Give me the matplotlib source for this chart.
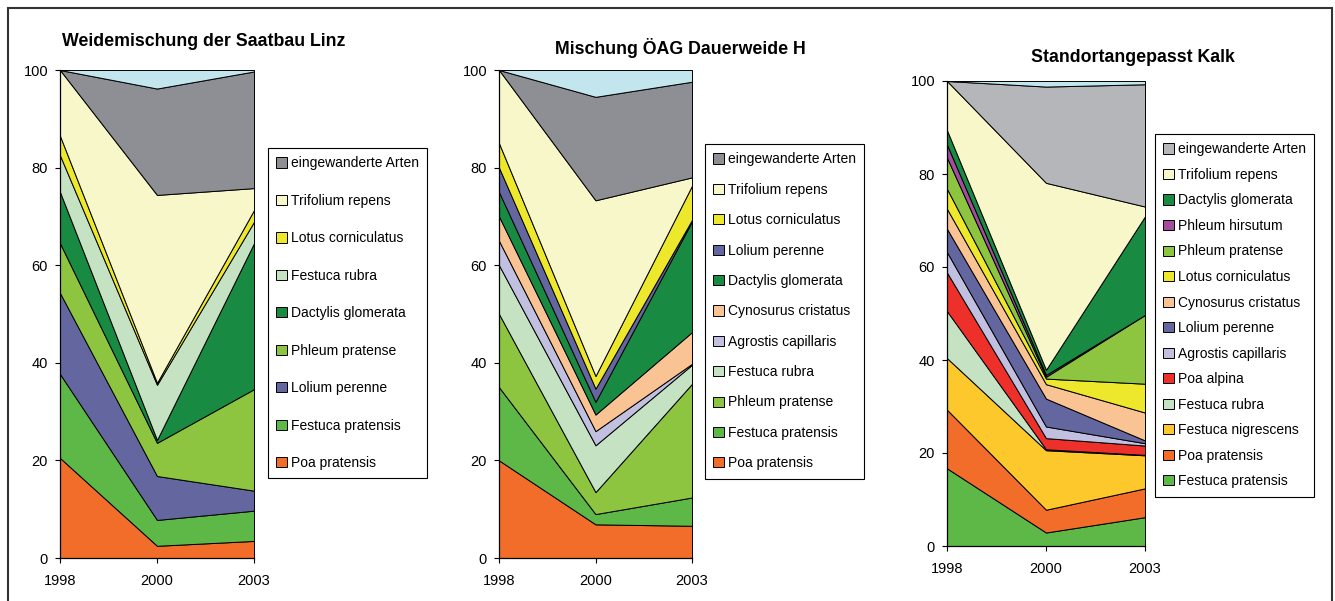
import matplotlib
matplotlib.use("Agg")
import matplotlib.pyplot as plt
from matplotlib.patches import Rectangle

plt.rcParams['font.family'] = ['Liberation Sans', 'DejaVu Sans']

W, H = 1335, 601

years = ['1998', '2000', '2003']

# colours per species
colors = {
    'Poa pratensis': '#F26C2A',
    'Festuca pratensis': '#5DB847',
    'Lolium perenne': '#64679F',
    'Phleum pratense': '#8DC540',
    'Dactylis glomerata': '#198A42',
    'Festuca rubra': '#C5E3C3',
    'Lotus corniculatus': '#EDE82B',
    'Trifolium repens': '#F8F7CA',
    'Agrostis capillaris': '#C1C0E0',
    'Cynosurus cristatus': '#F9C394',
    'Poa alpina': '#EE302B',
    'Festuca nigrescens': '#FCC82B',
    'Phleum hirsutum': '#A34D9F',
    'eingewanderte Arten': '#8E8F94',
    'sonstige': '#C2E5EE',
}

# --- Weidemischung der Saatbau Linz (bottom to top) ---
linz_species = ['Poa pratensis', 'Festuca pratensis', 'Lolium perenne', 'Phleum pratense',
                'Dactylis glomerata', 'Festuca rubra', 'Lotus corniculatus',
                'Trifolium repens', 'eingewanderte Arten', 'sonstige']
linz_values = [
    [20.5, 2.5, 3.5],
    [17.2, 5.3, 6.2],
    [16.6, 9.0, 4.1],
    [10.2, 6.8, 20.8],
    [10.5, 0.6, 29.9],
    [7.5, 11.3, 4.4],
    [4.0, 0.4, 2.4],
    [13.5, 38.5, 4.5],
    [0.0, 21.8, 23.9],
    [0.0, 3.8, 0.3],
]

# --- Mischung ÖAG Dauerweide H ---
oeag_species = ['Poa pratensis', 'Festuca pratensis', 'Phleum pratense', 'Festuca rubra',
                'Agrostis capillaris', 'Cynosurus cristatus', 'Dactylis glomerata',
                'Lolium perenne', 'Lotus corniculatus', 'Trifolium repens',
                'eingewanderte Arten', 'sonstige']
oeag_values = [
    [20.0, 6.9, 6.6],
    [15.0, 2.1, 5.8],
    [15.0, 4.5, 23.3],
    [10.0, 9.6, 3.9],
    [5.0, 2.9, 0.2],
    [5.0, 3.4, 6.5],
    [5.0, 2.6, 22.7],
    [5.0, 2.7, 0.3],
    [5.0, 2.6, 7.0],
    [15.0, 36.0, 1.7],
    [0.0, 21.2, 19.6],
    [0.0, 5.5, 2.4],
]

# --- Standortangepasst Kalk ---
kalk_species = ['Festuca pratensis', 'Poa pratensis', 'Festuca nigrescens', 'Festuca rubra',
                'Poa alpina', 'Agrostis capillaris', 'Lolium perenne', 'Cynosurus cristatus',
                'Lotus corniculatus', 'Phleum pratense', 'Phleum hirsutum',
                'Dactylis glomerata', 'Trifolium repens', 'eingewanderte Arten', 'sonstige']
kalk_values = [
    [16.7, 2.9, 6.2],
    [12.6, 4.9, 6.2],
    [11.1, 12.8, 7.1],
    [10.1, 0.2, 0.1],
    [8.3, 2.4, 2.0],
    [4.4, 2.5, 0.5],
    [5.0, 6.0, 0.6],
    [4.3, 3.1, 6.0],
    [4.3, 1.2, 6.2],
    [6.7, 0.4, 14.8],
    [2.8, 0.4, 0.0],
    [3.1, 1.1, 21.2],
    [10.6, 40.2, 2.1],
    [0.0, 20.7, 26.3],
    [0.0, 1.2, 0.7],
]

panels = [
    dict(title='Weidemischung der Saatbau Linz', species=linz_species, values=linz_values,
         axes=(60, 254, 70, 558), title_xy=(62, 41), title_ha='left',
         legend=(268, 148), spacing=1.69, grey='#8E8F94'),
    dict(title='Mischung ÖAG Dauerweide H', species=oeag_species, values=oeag_values,
         axes=(499, 692, 70, 558), title_xy=(680, 48), title_ha='center',
         legend=(705, 144), spacing=1.18, grey='#8E8F94'),
    dict(title='Standortangepasst Kalk', species=kalk_species, values=kalk_values,
         axes=(947, 1145, 81, 546), title_xy=(1133, 58), title_ha='center',
         legend=(1155, 134), spacing=0.83, grey='#B5B6BA'),
]

fig = plt.figure(figsize=(W / 100, H / 100), dpi=100)
fig.patch.set_facecolor('white')
fig.patches.append(Rectangle((8 / W, -0.05), 1324 / W, 1.05 - 8 / H, transform=fig.transFigure,
                             fill=False, edgecolor='#333333', linewidth=1.5))

x = [0, 1, 2]
for p in panels:
    left, right, top, bottom = p['axes']
    ax = fig.add_axes([left / W, 1 - bottom / H, (right - left) / W, (bottom - top) / H])
    cols = [colors[s] for s in p['species']]
    cols[p['species'].index('eingewanderte Arten')] = p['grey']
    polys = ax.stackplot(x, p['values'], colors=cols, edgecolor='black', linewidth=0.7)
    ax.set_xlim(0, 2)
    ax.set_ylim(0, 100)
    ax.set_xticks(x)
    ax.set_xticklabels(years)
    ax.set_yticks(range(0, 101, 20))
    ax.tick_params(labelsize=10.5, length=3.6, width=0.8, direction='out')
    ax.tick_params(axis='x', pad=8)
    ax.tick_params(axis='y', pad=5)
    for s in ['top', 'right']:
        ax.spines[s].set_visible(False)
    for s in ['left', 'bottom']:
        ax.spines[s].set_linewidth(0.9)

    handles = polys[:-1][::-1]
    labels = p['species'][:-1][::-1]
    lx, ly = p['legend']
    leg = fig.legend(handles, labels, loc='upper left', bbox_to_anchor=(lx / W, 1 - ly / H),
                     fontsize=10, frameon=True, fancybox=False, framealpha=1,
                     edgecolor='black', borderaxespad=0, handlelength=0.75, handleheight=0.75,
                     handletextpad=0.3, labelspacing=p['spacing'], borderpad=0.6)
    leg.get_frame().set_linewidth(0.8)

    tx, ty = p['title_xy']
    fig.text(tx / W, 1 - ty / H, p['title'], fontsize=12.8, fontweight='bold',
             ha=p['title_ha'], va='center')

fig.savefig('out.png', dpi=100)
